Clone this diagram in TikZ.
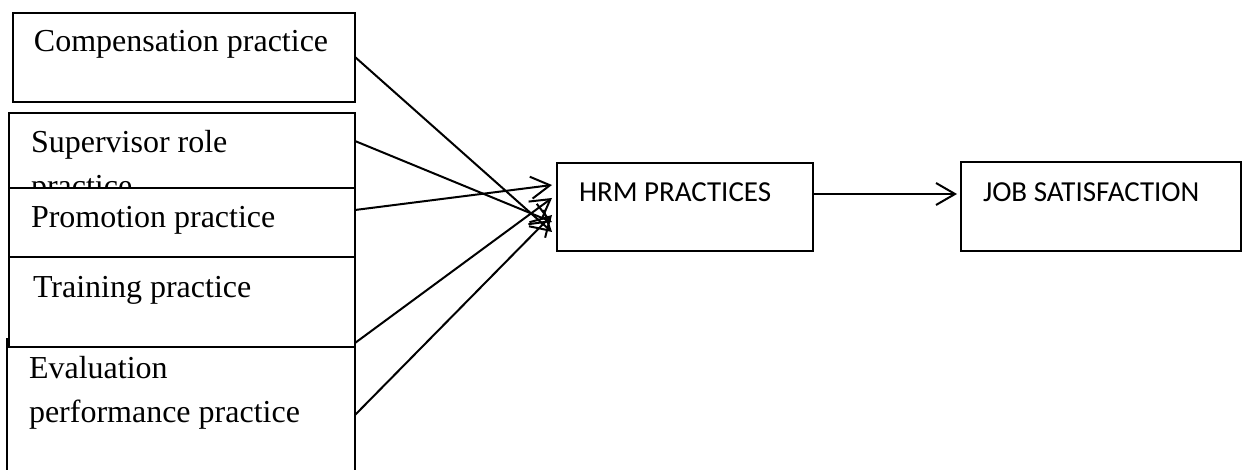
\documentclass[tikz,border=0pt]{standalone}
\usepackage{fontspec}
\setmainfont{Liberation Serif}
\newfontfamily\hrmfont{Carlito}
\usetikzlibrary{arrows.meta}

\begin{document}
\begin{tikzpicture}[x=1pt,y=-1pt,line width=2pt,
	prac_box/.style={rectangle,draw,fill=white,inner sep=0pt,outer sep=0pt,anchor=north west},
	prac_text/.style={anchor=base west,inner sep=0pt,align=left,font=\fontsize{32}{44}\selectfont},
	head_text/.style={anchor=base west,inner sep=0pt,font=\hrmfont\fontsize{29}{35}\selectfont},
	barb/.style={-{Straight Barb[length=19pt,width=22pt]}}]

	\useasboundingbox (0,0) rectangle (1243,470);

	\node[prac_box,minimum width=342pt,minimum height=89pt] (comp) at (13,13) {};
	\node[prac_text] (comp_t) at (33,52) {Compensation practice};

	\node[prac_box,minimum width=346pt,minimum height=127pt] (sup) at (9,113) {};
	\node[prac_text] (sup_t) at (30,197) {Supervisor role\\practice};

	\node[prac_box,minimum width=348pt,minimum height=150pt] (eval) at (7,339) {};
	\node[prac_text] (eval_t) at (28,422) {Evaluation\\performance practice};

	\node[prac_box,minimum width=346pt,minimum height=69pt] (prom) at (9,188) {};
	\node[prac_text] (prom_t) at (30,228) {Promotion practice};

	\node[prac_box,minimum width=346pt,minimum height=90pt] (train) at (9,257) {};
	\node[prac_text] (train_t) at (32,298) {Training practice};

	\node[prac_box,minimum width=256pt,minimum height=88pt] (hrm) at (557,163) {};
	\node[head_text] (hrm_t) at (578,202) {HRM PRACTICES};

	\node[prac_box,minimum width=280pt,minimum height=89pt] (job) at (961,162) {};
	\node[head_text] (job_t) at (982,202) {JOB SATISFACTION};

	\draw[barb] ([yshift=-44pt]comp.north east) -- ([xshift=-5pt,yshift=-69pt]hrm.north west);
	\draw[barb] ([yshift=-28pt]sup.north east) -- ([xshift=-5pt,yshift=-59pt]hrm.north west);
	\draw[barb] ([yshift=-22pt]prom.north east) -- ([xshift=-5pt,yshift=-22pt]hrm.north west);
	\draw[barb] ([yshift=-86pt]train.north east) -- ([xshift=-5pt,yshift=-35pt]hrm.north west);
	\draw[barb] ([yshift=-76pt]eval.north east) -- ([xshift=-5pt,yshift=-52pt]hrm.north west);
	\draw[barb] ([yshift=-31pt]hrm.north east) -- ([xshift=-4pt,yshift=-32pt]job.north west);
\end{tikzpicture}
\end{document}
